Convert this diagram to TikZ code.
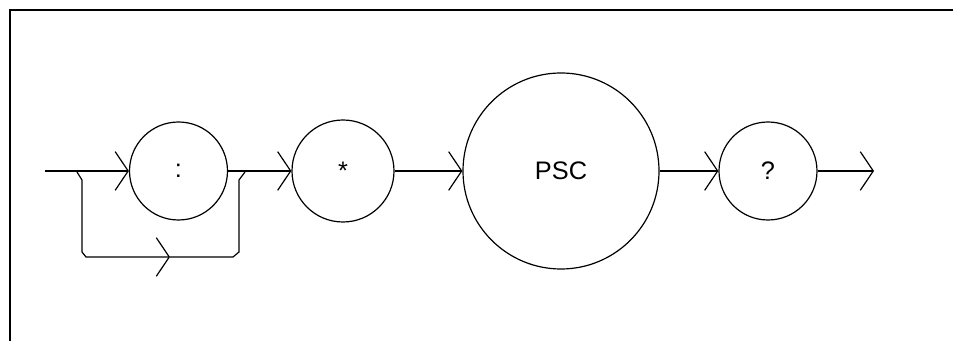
\documentclass[tikz,border=0pt]{standalone}
\usepackage{fontspec}
\setmainfont{Liberation Sans}
\usetikzlibrary{arrows.meta}

\begin{document}
\begin{tikzpicture}[x=0.75pt, y=-0.75pt, line width=0.9pt,
  font=\fontsize{19}{22}\selectfont,
  term/.style={circle, draw, inner sep=0pt, minimum size=73.5pt},
  flow/.style={-{Straight Barb[length=9.75pt, width=29pt]}}]
\useasboundingbox (0,0) rectangle (953,341);
% frame: top and left edges only
\draw[line width=1.2pt] (10,341) -- (10,10) -- (953,10);
% ---------------- syntax elements ----------------
\node[term] (colon) at (178.5,171) {:};
\node[term, minimum size=76.5pt] (star) at (343,171) {*};
\node[term, minimum size=147pt] (psc) at (561,171) {PSC};
\node[term] (query) at (768,171) {?};
% free ends of the main line and of the bypass
\coordinate (start) at (45,171);
\coordinate (finish) at (874,171);
\coordinate (split) at (77,172);
\coordinate (join) at (245,172);
\coordinate (midtip) at (170,257);
% ---------------- main line ----------------
\draw[flow] (start) -- (colon);
\draw[flow] (colon) -- (star);
\draw[flow] (star) -- (psc);
\draw[flow] (psc) -- (query);
\draw[flow] (query) -- (finish);
% ---------------- bypass round the colon ----------------
\draw[flow] (split) -- ++(5,8) -- ++(0,72) -- ++(4,5) -- (midtip);
\draw (midtip) -- ++(63,0) -- ++(6,-5) -- ++(0,-72) -- (join);
\end{tikzpicture}
\end{document}
